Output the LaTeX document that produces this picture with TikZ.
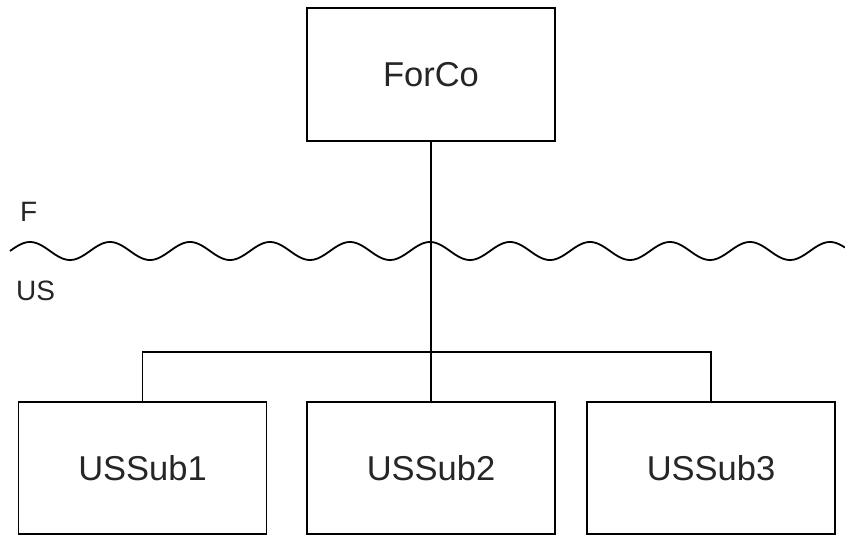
\documentclass[tikz,border=0pt]{standalone}
\usepackage{fontspec}
\setmainfont{Liberation Sans}
\begin{document}
\begin{tikzpicture}[x=1pt,y=-1pt,
  box/.style={draw=black, line width=1.8pt, minimum width=248pt, minimum height=133pt, inner sep=0pt, text=black!85, font=\fontsize{34.5}{40}\selectfont},
  conn/.style={draw=black, line width=1.8pt},
  lbl/.style={inner sep=0pt, anchor=base west, text=black!85, font=\fontsize{28}{32}\selectfont}]
\useasboundingbox (0,0) rectangle (845,537);
\node[box] (forco) at (431,74.5) {ForCo};
\node[box, minimum height=132pt] (s1) at (142.5,468) {USSub1};
\node[box, minimum height=132pt] (s2) at (431,468) {USSub2};
\node[box, minimum height=132pt] (s3) at (711,468) {USSub3};
\coordinate (bus) at (431,352);
\draw[conn] (forco.south) -- (s2.north);
\draw[conn] (s1.north) -- (s1.north |- bus) -- (s3.north |- bus) -- (s3.north);
\draw[black, line width=1.8pt] plot[domain=10:845, samples=400, smooth] (\x, {251-9*sin(4.5*(\x-10))});
\node[lbl] (f) at (20,222) {F};
\node[lbl] (us) at (16,300) {US};
\end{tikzpicture}
\end{document}
